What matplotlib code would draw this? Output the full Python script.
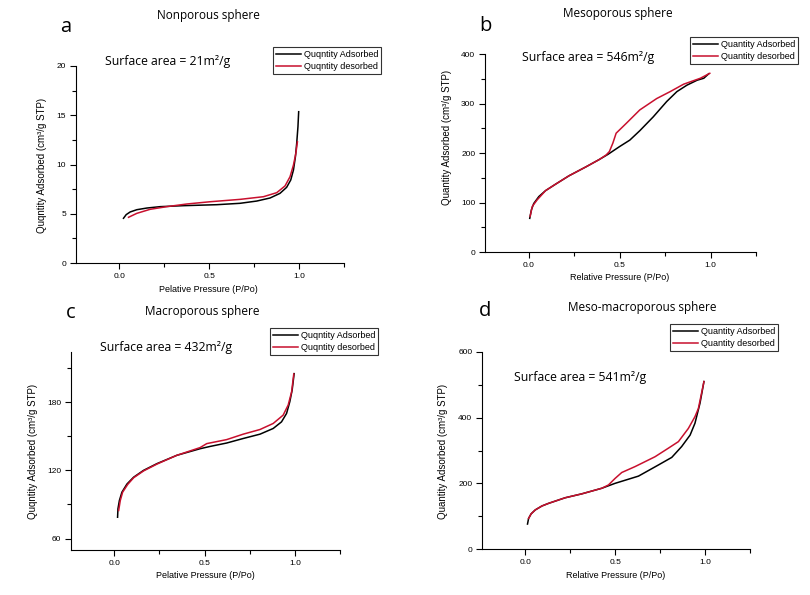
import matplotlib
matplotlib.use("Agg")
import matplotlib.pyplot as plt
from matplotlib.ticker import MultipleLocator

# ---- data ----
# panel a: Nonporous sphere
a_ads_x = [0.024, 0.039, 0.061, 0.098, 0.154, 0.228, 0.357, 0.543, 0.672, 0.765, 0.839, 0.894,
           0.931, 0.954, 0.969, 0.980, 0.987, 0.994, 0.998]
a_ads_y = [4.54, 4.91, 5.18, 5.41, 5.58, 5.72, 5.82, 5.92, 6.06, 6.29, 6.6, 7.07,
           7.68, 8.43, 9.44, 10.8, 12.15, 13.84, 15.36]
a_des_x = [0.052, 0.098, 0.172, 0.265, 0.376, 0.506, 0.672, 0.802, 0.876, 0.922, 0.95, 0.969,
           0.982, 0.991]
a_des_y = [4.64, 5.04, 5.45, 5.72, 5.99, 6.22, 6.46, 6.73, 7.14, 7.82, 8.76, 9.95,
           11.1, 12.3]

# panel b: Mesoporous sphere
b_ads_x = [0.006, 0.015, 0.028, 0.056, 0.093, 0.148, 0.222, 0.315, 0.389, 0.435, 0.5, 0.556,
           0.611, 0.685, 0.759, 0.815, 0.87, 0.926, 0.963, 0.99]
b_ads_y = [68, 85, 98, 112, 124, 137, 154, 172, 187, 197, 213, 226,
           245, 273, 304, 324, 337, 347, 351, 360]
b_des_x = [0.008, 0.02, 0.046, 0.093, 0.148, 0.222, 0.315, 0.389, 0.426, 0.444, 0.463, 0.481,
           0.537, 0.611, 0.704, 0.778, 0.852, 0.944, 0.996]
b_des_y = [72, 92, 105, 124, 137, 154, 172, 187, 196, 203, 220, 240,
           260, 287, 310, 324, 339, 351, 361]

# panel c: Macroporous sphere
c_ads_x = [0.018, 0.020, 0.028, 0.042, 0.07, 0.107, 0.162, 0.236, 0.346, 0.475, 0.53, 0.622,
           0.714, 0.807, 0.88, 0.926, 0.954, 0.972, 0.985, 0.996]
c_ads_y = [78.8, 86.2, 93.5, 100.8, 108, 114, 120, 125.9, 133.2, 139, 141, 144,
           148, 151.8, 156.8, 162.6, 170, 180.3, 190.6, 205]
c_des_x = [0.024, 0.033, 0.046, 0.074, 0.107, 0.162, 0.236, 0.346, 0.475, 0.512, 0.622, 0.714,
           0.807, 0.88, 0.935, 0.963, 0.982, 0.994]
c_des_y = [84.7, 93.5, 100.8, 107.6, 113.5, 119.5, 125.5, 133.2, 140, 143.5, 147, 151.8,
           155.9, 161.2, 168.5, 177.4, 189, 204.7]

# panel d: Meso-macroporous sphere
d_ads_x = [0.013, 0.019, 0.033, 0.056, 0.093, 0.13, 0.222, 0.315, 0.426, 0.5, 0.63, 0.741,
           0.815, 0.87, 0.917, 0.944, 0.972, 0.994]
d_ads_y = [76, 93, 107, 119, 131, 139, 156, 168, 185, 200, 222, 256,
           279, 312, 347, 383, 444, 510]
d_des_x = [0.019, 0.033, 0.056, 0.093, 0.13, 0.222, 0.315, 0.426, 0.463, 0.5, 0.537, 0.611,
           0.722, 0.796, 0.852, 0.907, 0.944, 0.963, 0.994]
d_des_y = [93, 107, 119, 131, 139, 156, 168, 185, 195, 215, 233, 251,
           281, 307, 327, 367, 403, 428, 510]

titles = ["Nonporous sphere", "Mesoporous sphere", "Macroporous sphere", "Meso-macroporous sphere"]
letters = ["a", "b", "c", "d"]
areas = ["Surface area = 21m\u00b2/g", "Surface area = 546m\u00b2/g",
         "Surface area = 432m\u00b2/g", "Surface area = 541m\u00b2/g"]
ylabels = ["Quqntity Adsorbed (cm\u00b3/g STP)", "Quantity Adsorbed (cm\u00b3/g STP)",
           "Quqntity Adsorbed (cm\u00b3/g STP)", "Quantity Adsorbed (cm\u00b3/g STP)"]
xlabels = ["Pelative Pressure (P/Po)", "Relative Pressure (P/Po)",
           "Pelative Pressure (P/Po)", "Relative Pressure (P/Po)"]
legends = [["Quqntity Adsorbed", "Quqntity desorbed"],
           ["Quantity Adsorbed", "Quantity desorbed"],
           ["Quqntity Adsorbed", "Quqntity desorbed"],
           ["Quantity Adsorbed", "Quantity desorbed"]]
ylims = [(0, 20), (0, 400), (50, 224), (0, 600)]
ymaj = [5, 100, 60, 200]
ymin = [2.5, 50, 30, 100]

data = [(a_ads_x, a_ads_y, a_des_x, a_des_y),
        (b_ads_x, b_ads_y, b_des_x, b_des_y),
        (c_ads_x, c_ads_y, c_des_x, c_des_y),
        (d_ads_x, d_ads_y, d_des_x, d_des_y)]

# ---- layout ----
axpos = [(76, 344, 66, 263), (485, 756, 54, 252), (71, 340, 352, 550), (482, 750, 352, 549)]
W, H = 810, 595
title_pos = [(208, 16), (618, 14), (202, 311), (642, 307)]
letter_pos = [(66, 27), (485, 26), (71, 313), (485, 311)]
area_pos = [(105, 62), (522, 57), (100, 348), (514, 377)]
ylab_pos = [(42, 165), (447, 137), (33, 451), (443, 451)]
xlab_pos = [(208, 289), (620, 277), (205, 575), (616, 575)]
leg_pos = [(273, 47), (690, 37), (270, 328), (670, 324)]

fig = plt.figure(figsize=(8.1, 5.95), dpi=100)
sans = ["Liberation Sans", "DejaVu Sans"]
txt = ["Open Sans", "DejaVu Sans"]
red = "#c8102e"

for i in range(4):
    l, r, t, b = axpos[i]
    ax = fig.add_axes([l / W, 1 - b / H, (r - l) / W, (b - t) / H])
    ax_x, ax_y, de_x, de_y = data[i]
    ax.plot(ax_x, ax_y, color="black", lw=1.1, label=legends[i][0])
    ax.plot(de_x, de_y, color=red, lw=1.1, label=legends[i][1])
    ax.set_xlim(-0.24, 1.25)
    ax.set_ylim(*ylims[i])
    ax.spines["top"].set_visible(False)
    ax.spines["right"].set_visible(False)
    ax.spines["left"].set_linewidth(0.8)
    ax.spines["bottom"].set_linewidth(0.8)
    ax.xaxis.set_major_locator(MultipleLocator(0.5))
    ax.xaxis.set_minor_locator(MultipleLocator(0.25))
    ax.yaxis.set_major_locator(MultipleLocator(ymaj[i]))
    ax.yaxis.set_minor_locator(MultipleLocator(ymin[i]))
    ax.xaxis.set_major_formatter(plt.FuncFormatter(lambda v, p: f"{v:.1f}"))
    ax.yaxis.set_major_formatter(plt.FuncFormatter(lambda v, p: f"{v:g}"))
    ax.tick_params(which="major", direction="out", length=4, width=0.8, labelsize=6, pad=3)
    ax.tick_params(which="minor", direction="out", length=3, width=0.8)
    for lab in ax.get_xticklabels() + ax.get_yticklabels():
        lab.set_family(sans)
    leg = ax.legend(loc="upper left", bbox_to_anchor=(leg_pos[i][0] / W, 1 - leg_pos[i][1] / H),
                    bbox_transform=fig.transFigure, prop={"family": sans, "size": 6.5},
                    frameon=True, fancybox=False, edgecolor="black", borderpad=0.3,
                    handlelength=2.8, handletextpad=0.3, labelspacing=0.35, borderaxespad=0)
    leg.get_frame().set_linewidth(0.8)

    fig.text(title_pos[i][0] / W, 1 - title_pos[i][1] / H, titles[i], ha="center", va="center",
             fontsize=8.5, family=txt)
    fig.text(letter_pos[i][0] / W, 1 - letter_pos[i][1] / H, letters[i], ha="center", va="center",
             fontsize=14.5, family=txt)
    fig.text(area_pos[i][0] / W, 1 - area_pos[i][1] / H, areas[i], ha="left", va="center",
             fontsize=8.8, family=txt)
    fig.text(ylab_pos[i][0] / W, 1 - ylab_pos[i][1] / H, ylabels[i], ha="center", va="center",
             rotation=90, fontsize=7, family=sans)
    fig.text(xlab_pos[i][0] / W, 1 - xlab_pos[i][1] / H, xlabels[i], ha="center", va="center",
             fontsize=6.5, family=sans)

fig.savefig("out.png", dpi=100)
